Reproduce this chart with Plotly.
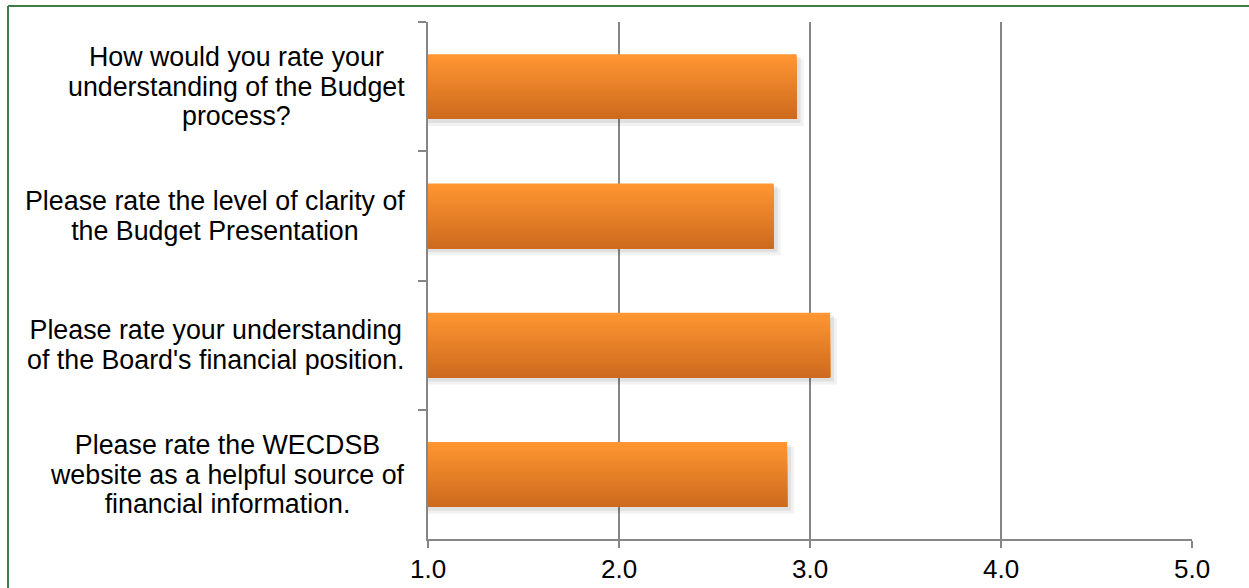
import plotly.graph_objects as go

# ---- data ----
categories = [
    "How would you rate your<br>understanding of the Budget<br>process?",
    "Please rate the level of clarity of<br>the Budget Presentation",
    "Please rate your understanding<br>of the Board's financial position.",
    "Please rate the WECDSB<br>website as a helpful source of<br>financial information.",
]
values = [2.93, 2.81, 3.105, 2.88]
x_tick_values = [1, 2, 3, 4, 5]
x_tick_labels = ["1.0", "2.0", "3.0", "4.0", "5.0"]

# ---- style ----
W, H = 1249, 588
ML, MR, MT, MB = 428, 57, 22, 49
PLOT_W = W - ML - MR
PLOT_H = H - MT - MB
CAT_PX = PLOT_H / len(categories)
BAR_W = 0.5
GRAY = "rgb(134,134,134)"
FONT = "Liberation Sans, Arial, sans-serif"
TOP = (255, 150, 50)
BOT = (205, 106, 30)

fig = go.Figure()

# soft drop shadow (two layers)
for grow_px, alpha in [(7, 0.05), (4, 0.07)]:
    fig.add_trace(go.Bar(
        y=categories, x=[v + grow_px / PLOT_W * 4 for v in values],
        orientation="h", width=BAR_W + grow_px / CAT_PX * 0.3,
        offset=-BAR_W / 2 + grow_px / CAT_PX * 0.7,
        marker=dict(color=f"rgba(0,0,0,{alpha})", line=dict(width=0)),
        hoverinfo="skip", showlegend=False,
    ))

# vertical gradient built from stacked overlay slices
N = 28
for i in range(N):
    t = i / (N - 1)
    c = tuple(round(TOP[k] + (BOT[k] - TOP[k]) * t) for k in range(3))
    start = -BAR_W / 2 + BAR_W * i / N
    fig.add_trace(go.Bar(
        y=categories, x=values, orientation="h",
        width=BAR_W / 2 - start, offset=start,
        marker=dict(color=f"rgb{c}", line=dict(width=0)),
        hoverinfo="skip", showlegend=False,
    ))

# category labels (centred multi-line blocks, right edge near the axis)
for cat in categories:
    fig.add_annotation(
        x=0, xref="paper", y=cat, yref="y",
        xanchor="right", yanchor="middle", xshift=-21,
        align="center", showarrow=False,
        text=f'<span style="font-size:26.8px">{cat}</span>',
        font=dict(family=FONT, size=22.7, color="black"),
    )

# x tick labels placed below the axis
for tv, tl in zip(x_tick_values, x_tick_labels):
    fig.add_annotation(
        x=tv, xref="x", y=0, yref="paper",
        xanchor="center", yanchor="middle", yshift=-30,
        showarrow=False, text=tl,
        font=dict(family=FONT, size=26, color="black"),
    )

# green outer border: only top and left edges fall inside the picture
BORDER = dict(color="rgb(62,125,70)", width=2)
top_y = (H - MB - 6) / PLOT_H
left_x = (8 - ML) / PLOT_W
fig.add_shape(type="line", xref="paper", yref="paper",
              x0=left_x, x1=(W + 40 - ML) / PLOT_W, y0=top_y, y1=top_y,
              line=BORDER, layer="above")
fig.add_shape(type="line", xref="paper", yref="paper",
              x0=left_x, x1=left_x, y0=top_y, y1=(H - MB - (H + 40)) / PLOT_H,
              line=BORDER, layer="above")

fig.update_layout(
    width=W, height=H, autosize=False,
    margin=dict(l=ML, r=MR, t=MT, b=MB, pad=0, autoexpand=False),
    paper_bgcolor="white", plot_bgcolor="white",
    barmode="overlay", showlegend=False,
    font=dict(family=FONT, color="black"),
    xaxis=dict(
        range=[1, 5], tickvals=x_tick_values, ticktext=x_tick_labels,
        showticklabels=False,
        showgrid=True, gridcolor=GRAY, gridwidth=2,
        showline=True, linecolor=GRAY, linewidth=2,
        ticks="outside", ticklen=7, tickwidth=2, tickcolor=GRAY,
        automargin=False, zeroline=False, fixedrange=True,
    ),
    yaxis=dict(
        type="category", categoryorder="array", categoryarray=categories,
        autorange="reversed", tickson="boundaries", automargin=False,
        ticks="outside", ticklen=8, tickwidth=2, tickcolor=GRAY,
        showticklabels=False, showgrid=False,
        showline=True, linecolor=GRAY, linewidth=2,
        zeroline=False, fixedrange=True,
    ),
)

fig.write_html("out.html")
